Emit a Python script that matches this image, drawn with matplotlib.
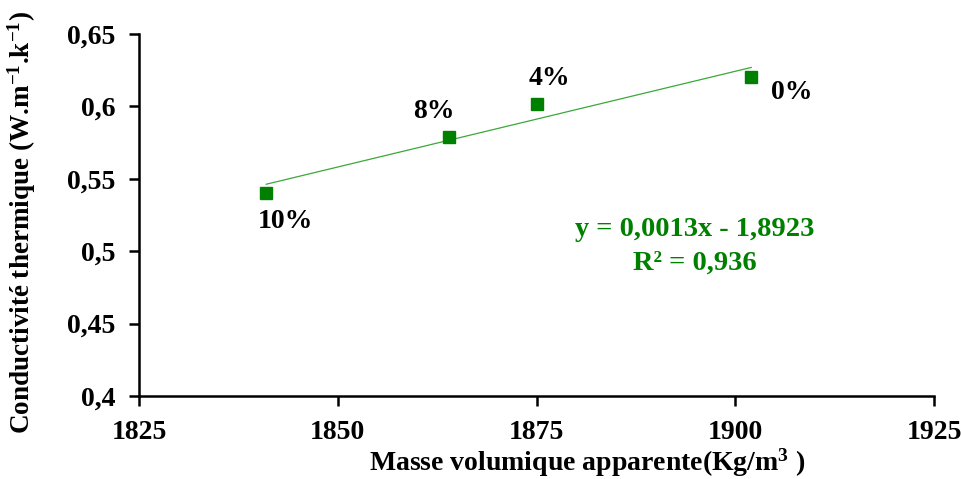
import numpy as np
import matplotlib
matplotlib.use("Agg")
import matplotlib.pyplot as plt

plt.rcParams['font.family'] = ['Liberation Serif', 'DejaVu Serif']
plt.rcParams['font.weight'] = 'bold'
plt.rcParams['mathtext.fontset'] = 'custom'
plt.rcParams['mathtext.rm'] = 'Liberation Serif:bold'
plt.rcParams['mathtext.it'] = 'Liberation Serif:bold'
plt.rcParams['mathtext.bf'] = 'Liberation Serif:bold'

# data
labels = ['10%', '8%', '4%', '0%']
densite = [1841, 1864, 1875, 1902]
conductivite = [0.540, 0.579, 0.602, 0.620]

xticks = [1825, 1850, 1875, 1900, 1925]
yticks = [0.4, 0.45, 0.5, 0.55, 0.6, 0.65]
ytick_labels = ['0,4', '0,45', '0,5', '0,55', '0,6', '0,65']

green = '#008000'

fig = plt.figure(figsize=(9.61, 4.79), dpi=100)
ax = fig.add_axes([0.1446, 0.1733, 0.8274, 0.7557])

ax.plot(densite, conductivite, 's', color=green, markersize=9, zorder=3)

# linear trend line
a, b = np.polyfit(densite, conductivite, 1)
xs = np.array([min(densite), max(densite)])
ax.plot(xs, a * xs + b, color='#3aa83a', lw=0.9, zorder=2)

# point labels
offsets = {'10%': (14, -20), '8%': (-11, 18), '4%': (9, 18), '0%': (29, -11)}
for lab, x, y in zip(labels, densite, conductivite):
    dx, dy = offsets[lab]
    ax.annotate(lab, (x, y), xytext=(dx, dy), textcoords='offset points',
                ha='center', va='center', fontsize=20, fontweight='bold', color='black')

ax.text(0.699, 0.459, 'y = 0,0013x - 1,8923', transform=ax.transAxes,
        ha='center', va='center', color=green, fontsize=20.5, fontweight='bold')
ax.text(0.699, 0.368, 'R² = 0,936', transform=ax.transAxes,
        ha='center', va='center', color=green, fontsize=20.5, fontweight='bold')

ax.set_xlim(1825, 1925)
ax.set_ylim(0.4, 0.65)
ax.set_xticks(xticks)
ax.set_xticklabels([str(t) for t in xticks])
ax.set_yticks(yticks)
ax.set_yticklabels(ytick_labels)

for s in ['top', 'right']:
    ax.spines[s].set_visible(False)
for s in ['left', 'bottom']:
    ax.spines[s].set_linewidth(1.8)
ax.tick_params(axis='both', direction='out', length=7, width=1.8, labelsize=20)
ax.tick_params(axis='y', pad=10)
ax.tick_params(axis='x', pad=10)

ax.set_xlabel('Masse volumique apparente(Kg/m$^3$ )', fontsize=20, fontweight='bold')
ax.xaxis.set_label_coords(0.563, -0.14)
ax.set_ylabel('Conductivité thermique (W.m$^{-1}$.k$^{-1}$)', fontsize=19.5, fontweight='bold')
ax.yaxis.set_label_coords(-0.127, 0.478)

fig.savefig('out.png', dpi=100)
